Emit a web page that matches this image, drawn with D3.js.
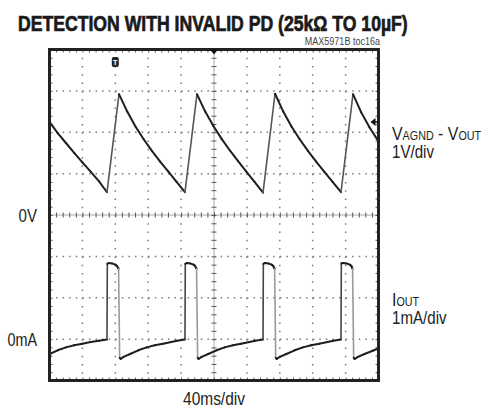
<!DOCTYPE html>
<html>
<head>
<meta charset="utf-8">
<script src="https://cdn.jsdelivr.net/npm/d3@7/dist/d3.min.js"></script>
<style>
    body { margin: 0; background: #fff; }
    text { font-family: "Liberation Sans", Arial, sans-serif; fill: #222; }
</style>
</head>
<body>
<div id="scope"></div>
<script>
"use strict";

// Channel 1: VAGND - VOUT (V)
let voltTime = [0, 10, 20, 30, 40, 50, 60, 69.9, 84.5,
    94.5, 104.5, 114.5, 124.5, 134.5, 144.5, 154.5, 164.7, 179.3,
    189.3, 199.3, 209.3, 219.3, 229.3, 239.3, 249.3, 259.6, 274.2,
    284.2, 294.2, 304.2, 314.2, 324.2, 334.2, 344.2, 354.4, 369.0,
    379, 389, 400];
let voltValue = [2.25, 1.98, 1.74, 1.50, 1.27, 1.05, 0.82, 0.55, 2.92,
    2.50, 2.14, 1.83, 1.55, 1.29, 1.05, 0.80, 0.55, 2.92,
    2.50, 2.15, 1.84, 1.56, 1.30, 1.05, 0.80, 0.54, 2.93,
    2.50, 2.14, 1.83, 1.55, 1.29, 1.04, 0.80, 0.55, 2.92,
    2.48, 2.12, 1.78];

// Channel 2: IOUT (mA)
let currTime = [0, 10, 20, 30, 40, 50, 60, 69.9,
    70.3, 72, 76, 80, 82, 83.5, 84.0,
    85.3, 86.5, 90, 98, 108, 118, 128, 138, 148, 155, 164.7,
    165.1, 167, 171, 175, 177, 178.3, 178.8,
    180.1, 181.3, 185, 193, 203, 213, 223, 233, 243, 250, 259.6,
    260.0, 262, 266, 270, 272, 273.2, 273.7,
    275.0, 276.2, 280, 288, 298, 308, 318, 328, 338, 345, 354.4,
    354.8, 357, 361, 365, 367, 368.0, 368.5,
    369.8, 371, 375, 383, 393, 400];
let currValue = [-0.36, -0.27, -0.20, -0.15, -0.11, -0.07, -0.04, -0.01,
    1.82, 1.84, 1.83, 1.80, 1.77, 1.72, 1.70,
    -0.45, -0.48, -0.43, -0.36, -0.27, -0.20, -0.15, -0.11, -0.07, -0.04, -0.01,
    1.82, 1.84, 1.83, 1.80, 1.77, 1.72, 1.70,
    -0.45, -0.48, -0.43, -0.36, -0.27, -0.20, -0.15, -0.11, -0.07, -0.04, -0.01,
    1.82, 1.84, 1.83, 1.80, 1.77, 1.72, 1.70,
    -0.45, -0.48, -0.43, -0.36, -0.27, -0.20, -0.15, -0.11, -0.07, -0.04, -0.01,
    1.83, 1.84, 1.83, 1.80, 1.77, 1.72, 1.70,
    -0.45, -0.48, -0.43, -0.36, -0.28, -0.22];

let divsX = 10;
let divsY = 8;
let triggerTime = 80;
let groundMarker = 2.25;

function scope() {
    let width = 487;
    let height = 409;
    let left = 49.5, right = 378.5, top = 49.5, bottom = 380.5;

    let svg = d3.select("#scope").append("svg")
        .attr("width", width).attr("height", height);

    // Scales: 40ms/div, 1V/div (0V at centre), 1mA/div (0mA one div above bottom)
    let x = d3.scaleLinear().domain([0, 400]).range([left, right]);
    let yV = d3.scaleLinear().domain([-4, 4]).range([bottom, top]);
    let yI = d3.scaleLinear().domain([-1, 7]).range([bottom, top]);
    let gx = d3.scaleLinear().domain([0, divsX]).range([left, right]);
    let gy = d3.scaleLinear().domain([0, divsY]).range([top, bottom]);

    let minorX = (right - left) / divsX / 5;
    let minorY = (bottom - top) / divsY / 5;

    // Dotted graticule
    let grid = svg.append("g");
    grid.selectAll(".vg").data(d3.range(1, divsX).filter(function (d) { return d !== 5; }))
        .enter().append("line")
        .attr("x1", function (d) { return gx(d); }).attr("x2", function (d) { return gx(d); })
        .attr("y1", top).attr("y2", bottom)
        .attr("stroke", "#7a7a7a").attr("stroke-width", 1.5)
        .attr("stroke-dasharray", `1.5,${minorY - 1.5}`);
    grid.selectAll(".hg").data(d3.range(1, divsY).filter(function (d) { return d !== 4; }))
        .enter().append("line")
        .attr("y1", function (d) { return gy(d); }).attr("y2", function (d) { return gy(d); })
        .attr("x1", left).attr("x2", right)
        .attr("stroke", "#7a7a7a").attr("stroke-width", 1.5)
        .attr("stroke-dasharray", `1.5,${minorX - 1.5}`);

    // Centre cross with minor ticks
    let minorTicksX = d3.range(0, divsX * 5 + 1).map(function (i) { return i / 5; });
    let minorTicksY = d3.range(0, divsY * 5 + 1).map(function (i) { return i / 5; });

    svg.append("line").attr("x1", left).attr("x2", right)
        .attr("y1", gy(4)).attr("y2", gy(4)).attr("stroke", "#aaa").attr("stroke-width", 1);
    svg.append("line").attr("y1", top).attr("y2", bottom)
        .attr("x1", gx(5)).attr("x2", gx(5)).attr("stroke", "#aaa").attr("stroke-width", 1);

    let cx = svg.append("g").attr("transform", `translate(0,${gy(4) + 2.5})`)
        .call(d3.axisTop(gx).tickValues(minorTicksX).tickSize(5).tickFormat(""));
    let cy = svg.append("g").attr("transform", `translate(${gx(5) + 2.5},0)`)
        .call(d3.axisLeft(gy).tickValues(minorTicksY).tickSize(5).tickFormat(""));

    // Frame ticks
    let ft = svg.append("g").attr("transform", `translate(0,${top})`)
        .call(d3.axisBottom(gx).tickValues(minorTicksX).tickSize(3).tickFormat(""));
    let fb = svg.append("g").attr("transform", `translate(0,${bottom})`)
        .call(d3.axisTop(gx).tickValues(minorTicksX).tickSize(3).tickFormat(""));
    let fl = svg.append("g").attr("transform", `translate(${left},0)`)
        .call(d3.axisRight(gy).tickValues(minorTicksY).tickSize(3).tickFormat(""));
    let fr = svg.append("g").attr("transform", `translate(${right},0)`)
        .call(d3.axisLeft(gy).tickValues(minorTicksY).tickSize(3).tickFormat(""));

    [cx, cy, ft, fb, fl, fr].forEach(function (g) {
        g.select(".domain").remove();
        g.selectAll("line").attr("stroke", "#555").attr("stroke-width", 1);
    });

    // Traces, drawn segment by segment so fast edges render lighter
    function trace(times, values, yScale, steepColour) {
        let g = svg.append("g");
        for (let i = 0; i < times.length - 1; i++) {
            let x1 = x(times[i]), x2 = x(times[i + 1]);
            let y1 = yScale(values[i]), y2 = yScale(values[i + 1]);
            let steep = Math.abs(y2 - y1) > 4 * Math.abs(x2 - x1) + 4;
            let colour = "#1e1e1e";
            if (steep) {
                colour = y2 < y1 ? steepColour[0] : steepColour[1];
            }
            g.append("line")
                .attr("x1", x1).attr("y1", y1).attr("x2", x2).attr("y2", y2)
                .attr("stroke", colour).attr("stroke-width", steep ? 1.6 : 2)
                .attr("stroke-linecap", "round");
        }
    }
    trace(voltTime, voltValue, yV, ["#555", "#555"]);
    trace(currTime, currValue, yI, ["#444", "#9a9a9a"]);

    // Frame
    svg.append("rect").attr("x", left).attr("y", top)
        .attr("width", right - left).attr("height", bottom - top)
        .attr("fill", "none").attr("stroke", "#222").attr("stroke-width", 3);

    // Markers
    let tx = x(triggerTime);
    svg.append("rect").attr("x", tx - 3.5).attr("y", 57).attr("width", 7).attr("height", 10)
        .attr("rx", 2).attr("fill", "#222");
    svg.append("text").attr("x", tx).attr("y", 65).attr("text-anchor", "middle")
        .style("font-size", "8px").style("font-weight", "bold").style("fill", "#fff").text("T");
    svg.append("path")
        .attr("d", `M${gx(5) - 4},${top} L${gx(5) + 4},${top} L${gx(5)},${top + 5} Z`)
        .attr("fill", "#111");
    let gm = yV(groundMarker);
    svg.append("path")
        .attr("d", `M${right - 8},${gm} L${right - 3},${gm - 4} L${right - 3},${gm + 4} Z`)
        .attr("fill", "#111");
    svg.append("line").attr("x1", right - 4).attr("x2", right).attr("y1", gm).attr("y2", gm)
        .attr("stroke", "#111").attr("stroke-width", 1.5);

    // Narrow labels: Liberation Sans squeezed horizontally
    function label(px, py, size, anchor, squeeze) {
        return svg.append("text")
            .attr("transform", `translate(${px},${py}) scale(${squeeze},1)`)
            .attr("text-anchor", anchor)
            .style("font-size", size + "px");
    }

    let title = label(18, 31, 22, "start", 1)
        .style("font-weight", "bold").style("fill", "#1a1a1a")
        .style("stroke", "#1a1a1a").style("stroke-width", "0.7px")
        .text("DETECTION WITH INVALID PD (25k\u03A9 TO 10\u00B5F)");
    let titleLen = title.node().getComputedTextLength();
    title.attr("transform", `translate(18,31) scale(${390 / titleLen},1)`);

    label(380, 45, 10.5, "end", 0.86).style("fill", "#444").text("MAX5971B toc16a");

    label(37, yV(0) + 6.5, 18, "end", 0.84).text("0V");
    label(37, yI(0) + 6.5, 18, "end", 0.8).text("0mA");
    label(gx(5), 405, 18, "middle", 0.86).text("40ms/div");

    let v = label(392, 140, 18.5, "start", 0.86);
    v.append("tspan").text("V");
    v.append("tspan").style("font-size", "12.5px").text("AGND");
    v.append("tspan").text(" - V");
    v.append("tspan").style("font-size", "12.5px").text("OUT");
    label(392, 158, 18, "start", 0.84).text("1V/div");

    let i = label(392, 306, 18.5, "start", 0.86);
    i.append("tspan").text("I");
    i.append("tspan").style("font-size", "12.5px").text("OUT");
    label(392, 324, 18, "start", 0.84).text("1mA/div");
}

window.onload = function () {
    scope();
};
</script>
</body>
</html>
